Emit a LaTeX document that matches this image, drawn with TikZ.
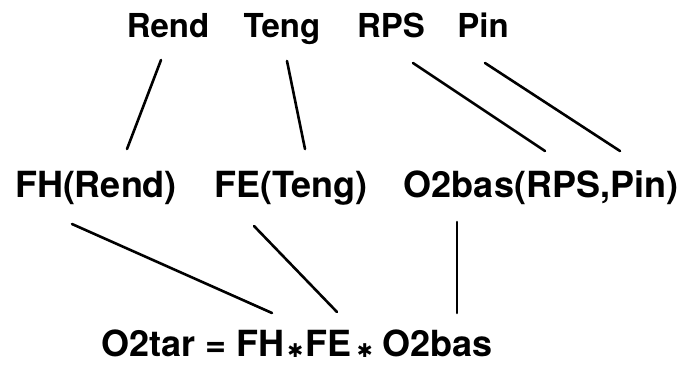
\documentclass[tikz,border=0pt]{standalone}
\usepackage{fontspec}
\setmainfont{TeX Gyre Heros}
\newfontfamily\symfont{DejaVu Sans}
\tikzset{
  lbl/.style={font=\bfseries\fontsize{36}{40}\selectfont, inner sep=0pt, anchor=base},
  toplbl/.style={lbl, font=\bfseries\fontsize{33}{38}\selectfont},
  conn/.style={line width=2.6pt, line cap=round}
}
\newcommand{\mystar}{{\symfont\fontsize{19}{19}\selectfont\raisebox{-1.5pt}{✱}}}
\begin{document}
\begin{tikzpicture}[x=1pt,y=-1pt]
\useasboundingbox (0,0) rectangle (684,365);
\node[toplbl] (rend) at (168,37) {Rend};
\node[toplbl] (teng) at (282,37) {Teng};
\node[toplbl] (rps) at (391,37) {RPS};
\node[toplbl] (pin) at (483,37) {Pin};
\node[lbl] (fh) at (96,197) {FH(Rend)};
\node[lbl] (fe) at (291,197) {FE(Teng)};
\node[lbl] (o2bas) at (541,197) {O2bas(RPS,Pin)};
\node[lbl, anchor=base west] (o2tar) at (101,356) {O2tar = FH\hspace{1pt}\makebox[20pt]{\mystar}FE\hspace{5pt}\makebox[17pt]{\mystar}\hspace{9pt}O2bas};
\coordinate (r1) at (161,60); \coordinate (r2) at (127,149);
\coordinate (t1) at (287,61); \coordinate (t2) at (305,149);
\coordinate (p1) at (413,63); \coordinate (p2) at (545,151);
\coordinate (q1) at (485,63); \coordinate (q2) at (620,151);
\coordinate (f1) at (72,224); \coordinate (f2) at (272,313);
\coordinate (e1) at (254,226); \coordinate (e2) at (337,312);
\coordinate (o1) at (457,222); \coordinate (o2) at (457,313);
\draw[conn] (r1) -- (r2);
\draw[conn] (t1) -- (t2);
\draw[conn] (p1) -- (p2);
\draw[conn] (q1) -- (q2);
\draw[conn] (f1) -- (f2);
\draw[conn] (e1) -- (e2);
\draw[conn] (o1) -- (o2);
\end{tikzpicture}
\end{document}
